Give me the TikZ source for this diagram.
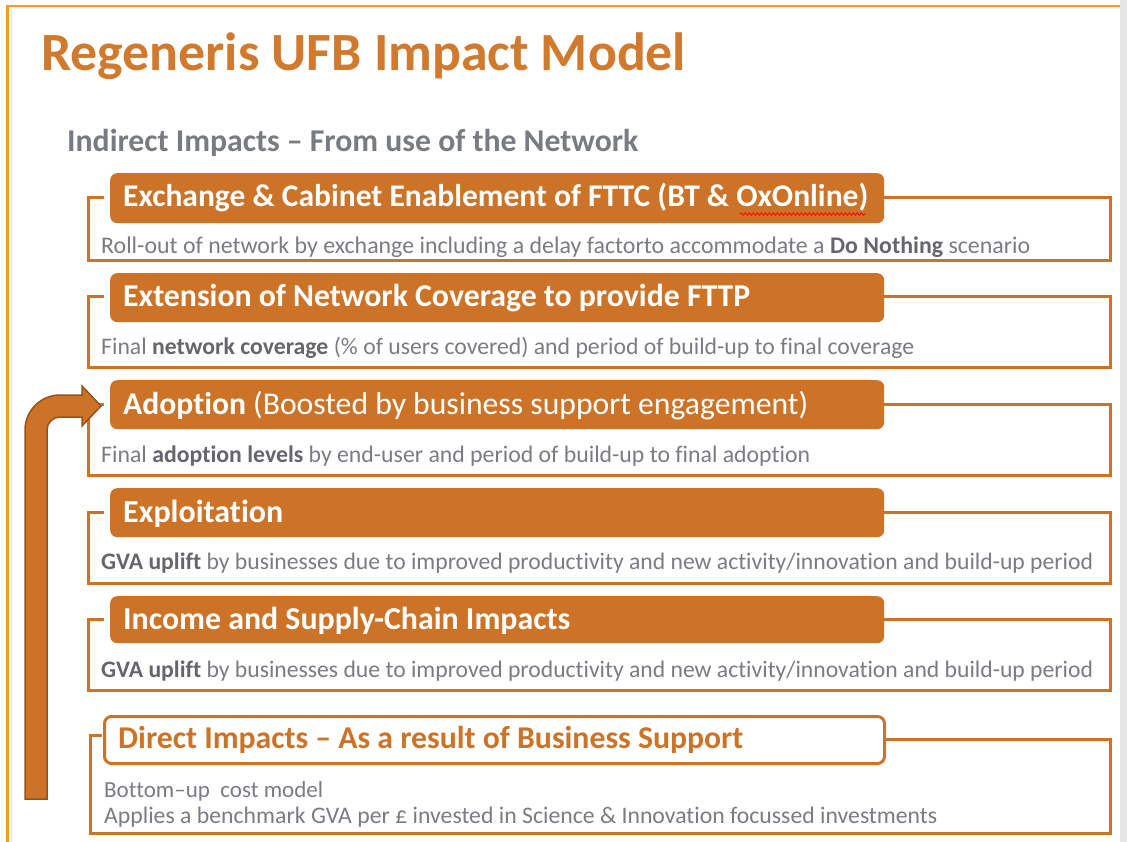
\documentclass[tikz,border=0pt]{standalone}
\usepackage{fontspec}
\setmainfont{Carlito}[Ligatures=NoCommon]
\usetikzlibrary{decorations.pathmorphing}
\definecolor{ora}{RGB}{204,115,40}
\definecolor{tit}{RGB}{209,121,45}
\definecolor{pageframe}{RGB}{243,156,40}
\definecolor{gtxt}{RGB}{122,124,130}
\definecolor{gbold}{RGB}{100,102,108}
\definecolor{gsub}{RGB}{120,124,128}
\definecolor{adark}{RGB}{150,82,25}
\definecolor{rgray}{RGB}{230,230,230}
\newcommand\fitw[2]{\resizebox{#1pt}{!}{#2}}
\begin{document}
\begin{tikzpicture}[x=1pt,y=-1pt,
  hdr/.style={fill=ora, rounded corners=7pt, minimum width=774pt, anchor=north west, inner sep=0pt},
  hdrw/.style={draw=ora, line width=3pt, fill=white, rounded corners=7pt, minimum width=780pt, anchor=north west, inner sep=0pt},
  htxt/.style={anchor=base west, inner sep=0pt, text=white, font=\bfseries},
  dtxt/.style={anchor=base west, inner sep=0pt, text=gtxt},
  outl/.style={draw=ora, line width=3pt, line join=miter},
  bigarrow/.style={fill=ora, draw=adark, line width=1.5pt, line join=miter}
]
\useasboundingbox (0,0) rectangle (1127,842);
\fill[white] (0,0) rectangle (1127,842);
\fill[rgray] (1120,0) rectangle (1127,842);
\draw[pageframe, line width=2.5pt] (7.5,842) -- (7.5,6) -- (1120,6);
\draw[gray!25, line width=1pt] (11,9) -- (11,842);

% Title
\node[anchor=base west, inner sep=0pt, text=tit, font=\bfseries] (title) at (41,71) {\fitw{645}{Regeneris UFB Impact Model}};
\node[anchor=base west, inner sep=0pt, text=gsub, font=\bfseries] (sub) at (67,152) {\fitw{571}{Indirect Impacts – From use of the Network}};

% Box 1
\draw[outl] (104,198) -- (88,198) -- (88,261) -- (1110,261) -- (1110,198) -- (884,198);
\node[hdr, minimum height=50pt] (h1) at (110,173) {};
\node[htxt] (t1) at (123,207) {\fitw{745}{Exchange \& Cabinet Enablement of FTTC (BT \& OxOnline)}};
\draw[red, line width=0.8pt, decorate, decoration={snake, amplitude=1.2pt, segment length=4pt}] (740,214) -- (866,214);
\node[dtxt] (d1) at (101,254) {\fitw{929}{Roll-out of network by exchange including a delay factorto accommodate a \textbf{\color{gbold}Do Nothing} scenario}};

% Box 2
\draw[outl] (104,297) -- (88,297) -- (88,367) -- (1110,367) -- (1110,297) -- (884,297);
\node[hdr, minimum height=49pt] (h2) at (110,273) {};
\node[htxt] (t2) at (123,307) {\fitw{627}{Extension of Network Coverage to provide FTTP}};
\node[dtxt] (d2) at (101,354) {\fitw{813}{Final \textbf{\color{gbold}network coverage} (\% of users covered) and period of build-up to final coverage}};

% Box 3
\draw[outl] (104,404) -- (88,404) -- (88,475) -- (1110,475) -- (1110,404) -- (884,404);
\node[hdr, minimum height=49pt] (h3) at (110,380) {};
\node[htxt] (t3) at (123,414) {\fitw{685}{Adoption \mdseries(Boosted by business support engagement)}};
\node[dtxt] (d3) at (101,462) {\fitw{709}{Final \textbf{\color{gbold}adoption levels} by end-user and period of build-up to final adoption}};

% Box 4
\draw[outl] (104,512) -- (88,512) -- (88,583) -- (1110,583) -- (1110,512) -- (884,512);
\node[hdr, minimum height=49pt] (h4) at (110,488) {};
\node[htxt] (t4) at (123,522) {\fitw{160}{Exploitation}};
\node[dtxt] (d4) at (101,569) {\fitw{992}{\textbf{\color{gbold}GVA uplift} by businesses due to improved productivity and new activity/innovation and build-up period}};

% Box 5
\draw[outl] (104,619) -- (88,619) -- (88,690) -- (1110,690) -- (1110,619) -- (884,619);
\node[hdr, minimum height=47pt] (h5) at (110,596) {};
\node[htxt] (t5) at (123,629) {\fitw{447}{Income and Supply-Chain Impacts}};
\node[dtxt] (d5) at (101,677) {\fitw{992}{\textbf{\color{gbold}GVA uplift} by businesses due to improved productivity and new activity/innovation and build-up period}};

% Box 6
\draw[outl] (102,735) -- (90,735) -- (90,833) -- (1110,833) -- (1110,739) -- (882,739);
\node[hdrw, minimum height=47pt] (h6) at (103,715) {};
\node[htxt, text=ora] (t6) at (118,748) {\fitw{625}{Direct Impacts – As a result of Business Support}};
\node[dtxt] (d6a) at (104,797) {\fitw{219}{Bottom–up\ \ cost model}};
\node[dtxt] (d6b) at (104,823) {\fitw{833}{Applies a benchmark GVA per £ invested in Science \& Innovation focussed investments}};

% Big arrow
\draw[bigarrow] (25,799) -- (25,430) .. controls (25,410.7) and (40.7,395) .. (60,395)
  -- (82,395) -- (82,386) -- (101,406) -- (82,426) -- (82,417) -- (60,417)
  .. controls (52.8,417) and (47,422.8) .. (47,430) -- (47,799) -- cycle;
\end{tikzpicture}
\end{document}
